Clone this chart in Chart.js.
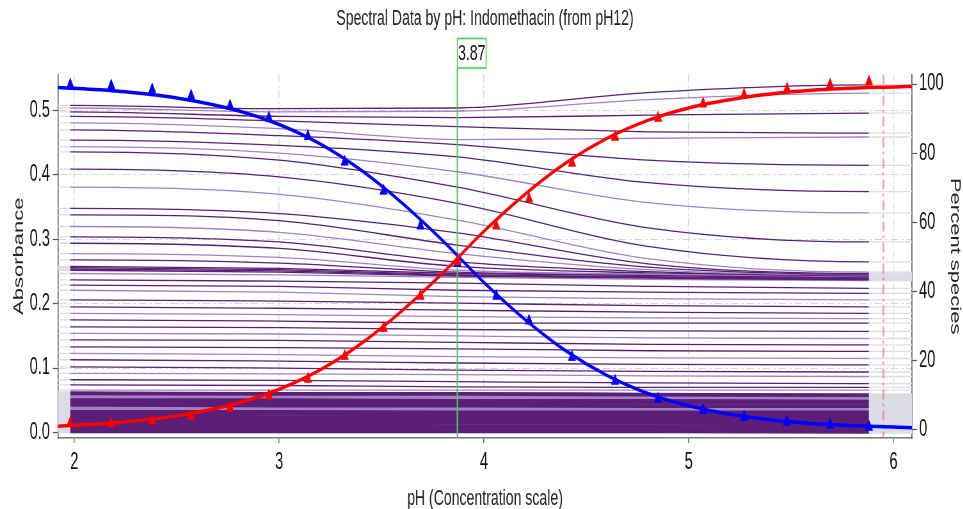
<!DOCTYPE html>
<html>
<head>
<meta charset="utf-8">
<title>Spectral Data by pH</title>
<script src="https://cdn.jsdelivr.net/npm/chart.js@4.4.1/dist/chart.umd.min.js"></script>
<style>
  html, body { margin: 0; padding: 0; background: #fff; overflow: hidden; }
  /* the reference is squeezed sideways, so draw wide and scale down */
  #chart { display: block; transform: scaleX(0.64); transform-origin: 0 0; }
</style>
</head>
<body>
<canvas id="chart" width="1505" height="509"></canvas>
<script>
var phMin = 1.92, phMax = 6.09;
var pKaPH = 3.87;
var cutoffPH = 5.95;

var xTicks = [2, 3, 4, 5, 6];
var absTicks = [0, 0.1, 0.2, 0.3, 0.4, 0.5];
var pctTicks = [0, 20, 40, 60, 80, 100];

// measured points (triangles)
var markerPH   = [1.98, 2.18, 2.38, 2.57, 2.76, 2.95, 3.14, 3.32, 3.51, 3.69, 3.87, 4.06, 4.22, 4.43, 4.64, 4.85, 5.07, 5.27, 5.48, 5.69, 5.88];
var markerBase = [1.9, 1.8, 2.6, 4.0, 6.3, 9.8, 14.7, 21.3, 29.4, 38.7, 48.8, 59.0, 66.8, 77.2, 84.7, 90.2, 94.3, 96.9, 98.6, 99.8, 100.7];
var markerAcid = [99.8, 99.5, 98.4, 96.6, 93.7, 90.2, 84.9, 77.5, 69.1, 59.0, 48.2, 38.7, 31.5, 21.0, 14.1, 8.9, 5.7, 3.7, 2.2, 1.4, 0.8];

// fitted species curves
var curvePH   = [1.92, 2.2, 2.5, 2.8, 3.0, 3.2, 3.4, 3.6, 3.8, 4.0, 4.2, 4.4, 4.6, 4.8, 5.0, 5.3, 5.6, 6.09];
var curveBase = [1.0, 2.0, 4.0, 7.7, 11.7, 17.3, 24.9, 34.4, 45.4, 57.4, 68.1, 77.2, 84.3, 89.5, 93.1, 96.4, 98.2, 99.4];
var curveAcid = [99.0, 98.0, 96.0, 92.3, 88.3, 82.7, 75.1, 65.6, 54.6, 42.6, 31.9, 22.8, 15.7, 10.5, 6.9, 3.6, 1.8, 0.6];

// absorbance traces, one row per wavelength, read at spectraPH
var spectraPH = [1.98, 3.0, 3.87, 4.8, 5.88];
var spectra = [
  [0.508, 0.503, 0.504, 0.528, 0.540],
  [0.504, 0.498, 0.499, 0.517, 0.527],
  [0.498, 0.491, 0.489, 0.493, 0.496],
  [0.491, 0.484, 0.475, 0.467, 0.465],
  [0.481, 0.472, 0.455, 0.457, 0.459],
  [0.470, 0.461, 0.447, 0.423, 0.415],
  [0.454, 0.446, 0.428, 0.388, 0.374],
  [0.444, 0.434, 0.405, 0.357, 0.341],
  [0.436, 0.423, 0.381, 0.318, 0.296],
  [0.409, 0.397, 0.356, 0.289, 0.265],
  [0.381, 0.370, 0.330, 0.270, 0.249],
  [0.348, 0.340, 0.310, 0.262, 0.247],
  [0.338, 0.329, 0.291, 0.257, 0.246],
  [0.320, 0.311, 0.278, 0.253, 0.245],
  [0.304, 0.296, 0.265, 0.250, 0.244],
  [0.294, 0.286, 0.258, 0.248, 0.243],
  [0.278, 0.272, 0.252, 0.246, 0.242],
  [0.268, 0.263, 0.249, 0.245, 0.241],
  [0.258, 0.255, 0.247, 0.244, 0.240],
  [0.256, 0.253, 0.245, 0.242, 0.239],
  [0.254, 0.251, 0.244, 0.241, 0.238],
  [0.252, 0.249, 0.243, 0.240, 0.237],
  [0.247, 0.245, 0.241, 0.238, 0.236],
  [0.237, 0.235, 0.232, 0.227, 0.224],
  [0.229, 0.227, 0.221, 0.218, 0.216],
  [0.221, 0.218, 0.211, 0.208, 0.206],
  [0.206, 0.204, 0.201, 0.197, 0.195],
  [0.195, 0.193, 0.190, 0.187, 0.185],
  [0.185, 0.183, 0.180, 0.178, 0.177],
  [0.175, 0.173, 0.170, 0.170, 0.170],
  [0.164, 0.163, 0.160, 0.158, 0.157],
  [0.154, 0.153, 0.150, 0.147, 0.146],
  [0.144, 0.143, 0.140, 0.137, 0.136],
  [0.133, 0.132, 0.130, 0.127, 0.126],
  [0.123, 0.121, 0.118, 0.116, 0.115],
  [0.113, 0.111, 0.108, 0.106, 0.105],
  [0.102, 0.100, 0.097, 0.095, 0.094],
  [0.092, 0.091, 0.090, 0.088, 0.087],
  [0.082, 0.081, 0.079, 0.077, 0.076],
  [0.074, 0.073, 0.071, 0.070, 0.070],
  [0.066, 0.066, 0.066, 0.066, 0.066],
  [0.061, 0.060, 0.060, 0.059, 0.058],
  [0.056, 0.056, 0.055, 0.055, 0.054],
  [0.052, 0.051, 0.051, 0.050, 0.050],
  [0.047, 0.047, 0.046, 0.046, 0.046],
  [0.043, 0.042, 0.042, 0.041, 0.041],
  [0.038, 0.038, 0.037, 0.037, 0.037],
  [0.034, 0.033, 0.033, 0.033, 0.032],
  [0.029, 0.029, 0.028, 0.028, 0.028],
  [0.025, 0.024, 0.024, 0.024, 0.023],
  [0.020, 0.020, 0.019, 0.019, 0.019],
  [0.016, 0.015, 0.015, 0.015, 0.014],
  [0.011, 0.011, 0.010, 0.010, 0.010],
  [0.007, 0.006, 0.006, 0.006, 0.005],
  [0.002, 0.002, 0.002, 0.002, 0.001]
];

var fontFamily = "'Liberation Sans', Arial, sans-serif";
var darkPurple = '#5b1f78';
var lightPurple = '#a083c0';
var greyTrace = '#dcdce6';

function points(xs, ys){
  return xs.map(function(x, i){ return {x: x, y: ys[i]}; });
}

// trace runs across the picked range, grey outside it
function traceData(values){
  var pts = [{x: phMin, y: values[0]}].concat(points(spectraPH, values));
  pts.push({x: phMax, y: values[values.length - 1]});
  return pts;
}

function traceColour(row, i){
  var start = row[0];
  if (start < 0.065) return (start > 0.03 && i % 4 === 2) ? lightPurple : darkPurple;
  if (start > 0.25 && start < 0.26) return darkPurple;
  return i % 3 === 1 ? lightPurple : darkPurple;
}

var datasets = [
  {data: points(markerPH, markerBase), yAxisID: 'pct', showLine: false, pointStyle: 'triangle',
   pointRadius: 6.5, pointBackgroundColor: '#ff0000', pointBorderColor: '#ff0000', pointBorderWidth: 1},
  {data: points(markerPH, markerAcid), yAxisID: 'pct', showLine: false, pointStyle: 'triangle',
   pointRadius: 6.5, pointBackgroundColor: '#0000ff', pointBorderColor: '#0000ff', pointBorderWidth: 1},
  {data: points(curvePH, curveBase), yAxisID: 'pct', borderColor: '#ff0000', borderWidth: 3.5,
   pointRadius: 0, cubicInterpolationMode: 'monotone'},
  {data: points(curvePH, curveAcid), yAxisID: 'pct', borderColor: '#0000ff', borderWidth: 3.5,
   pointRadius: 0, cubicInterpolationMode: 'monotone'}
];
var firstTrace = datasets.length;

spectra.forEach(function(row, i){
  var last = spectraPH.length + 1;
  var band = row[0] < 0.065;
  datasets.push({
    data: traceData(row),
    yAxisID: 'abs',
    borderColor: traceColour(row, i),
    borderWidth: band ? 3.8 : 1.3,
    pointRadius: 0,
    cubicInterpolationMode: 'monotone',
    segment: {
      borderColor: function(ctx){
        return (ctx.p0DataIndex === 0 || ctx.p1DataIndex === last) ? greyTrace : undefined;
      }
    }
  });
});

var guides = {
  id: 'guides',
  afterDatasetDraw: function(chart, args){
    if (args.index !== firstTrace) return;
    var ctx = chart.ctx, area = chart.chartArea, xs = chart.scales.x;
    var xp = xs.getPixelForValue(pKaPH);
    var xc = xs.getPixelForValue(cutoffPH);
    ctx.save();
    ctx.strokeStyle = '#4fcc4f';
    ctx.lineWidth = 2.2;
    ctx.beginPath(); ctx.moveTo(xp, 68); ctx.lineTo(xp, area.bottom); ctx.stroke();
    ctx.strokeStyle = 'rgba(255,90,90,0.55)';
    ctx.lineWidth = 3;
    ctx.setLineDash([10, 4, 3, 4]);
    ctx.beginPath(); ctx.moveTo(xc, area.top); ctx.lineTo(xc, area.bottom); ctx.stroke();
    ctx.restore();
  },
  afterDraw: function(chart){
    var ctx = chart.ctx;
    var xp = chart.scales.x.getPixelForValue(pKaPH);
    ctx.save();
    ctx.fillStyle = '#fff';
    ctx.fillRect(xp, 38, 45, 30);
    ctx.strokeStyle = '#4fcc4f';
    ctx.lineWidth = 1.6;
    ctx.strokeRect(xp, 38.5, 45, 29.5);
    ctx.font = '22px ' + fontFamily;
    ctx.fillStyle = '#111';
    ctx.textAlign = 'center';
    ctx.textBaseline = 'middle';
    ctx.fillText(pKaPH.toFixed(2), xp + 22.5, 54);
    ctx.restore();
  }
};

function tickFont(){ return {family: fontFamily, size: 23}; }

new Chart(document.getElementById('chart').getContext('2d'), {
  type: 'line',
  data: {datasets: datasets},
  plugins: [guides],
  options: {
    responsive: false,
    animation: false,
    plugins: {
      legend: {display: false},
      tooltip: {enabled: false},
      title: {
        display: true,
        text: 'Spectral Data by pH: Indomethacin (from pH12)',
        font: {family: fontFamily, size: 22, weight: 'normal', lineHeight: 1.2},
        color: '#222',
        padding: {top: 6, bottom: 42},
        fullSize: false
      }
    },
    scales: {
      x: {
        type: 'linear', min: phMin, max: phMax, bounds: 'data',
        afterBuildTicks: function(s){ s.ticks = xTicks.map(function(v){ return {value: v}; }); },
        afterFit: function(s){ s.height = 71; },
        ticks: {font: tickFont(), color: '#111', padding: 6, maxRotation: 0, autoSkip: false,
                callback: function(v){ return String(v); }},
        grid: {color: '#d6d6d6', lineWidth: 1.5, tickLength: 5, tickColor: '#666', tickWidth: 1.5, tickBorderDash: []},
        border: {display: true, color: '#777', width: 1.5, dash: [8, 3, 2, 3]},
        title: {display: true, text: 'pH (Concentration scale)', color: '#222',
                font: {family: fontFamily, size: 22, lineHeight: 0.9}, padding: 0}
      },
      abs: {
        type: 'linear', position: 'left', min: -0.0085, max: 0.5562, bounds: 'data',
        afterBuildTicks: function(s){ s.ticks = absTicks.map(function(v){ return {value: v}; }); },
        afterFit: function(s){ s.width = 90.6; },
        ticks: {font: tickFont(), color: '#111', padding: 4.5,
                callback: function(v){ return Number(v).toFixed(1); }},
        grid: {color: '#d6d6d6', lineWidth: 1, tickLength: 8, tickColor: '#555', tickWidth: 1.2, tickBorderDash: []},
        border: {display: true, color: '#555', width: 1.6, dash: [12, 5, 3, 5]},
        title: {display: true, text: 'Absorbance', color: '#222',
                font: {family: fontFamily, size: 22, lineHeight: 1.2}, padding: {top: 16.5, bottom: 0}}
      },
      pct: {
        type: 'linear', position: 'right', min: -2.4, max: 102.8, bounds: 'data',
        afterBuildTicks: function(s){ s.ticks = pctTicks.map(function(v){ return {value: v}; }); },
        afterFit: function(s){ s.width = 80; },
        ticks: {font: tickFont(), color: '#111', padding: 3,
                callback: function(v){ return String(v); }},
        grid: {drawOnChartArea: false, tickLength: 8, tickColor: '#555', tickWidth: 1.2},
        border: {display: true, color: '#555', width: 1.6},
        title: {display: true, text: 'Percent species', color: '#222',
                font: {family: fontFamily, size: 22, lineHeight: 1.2}, padding: {top: 0, bottom: 0}}
      }
    }
  }
});
</script>
</body>
</html>
